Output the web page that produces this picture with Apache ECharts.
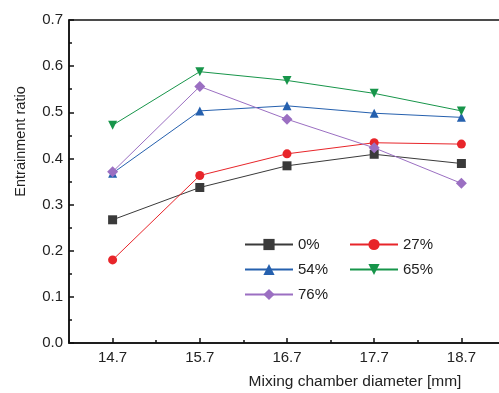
<!DOCTYPE html>
<html>
<head>
<meta charset="utf-8">
<script src="https://cdn.jsdelivr.net/npm/echarts@6/dist/echarts.min.js"></script>
<style>html,body{margin:0;padding:0;background:#fff;}#c{width:499px;height:393px;}</style>
</head>
<body>
<div id="c"></div>
<script>
var categories = ['14.7', '15.7', '16.7', '17.7', '18.7'];
var s0 = [0.267, 0.337, 0.384, 0.409, 0.389];
var s27 = [0.180, 0.363, 0.410, 0.434, 0.431];
var s54 = [0.368, 0.503, 0.514, 0.498, 0.489];
var s65 = [0.472, 0.588, 0.569, 0.541, 0.503];
var s76 = [0.371, 0.556, 0.485, 0.423, 0.346];
var seriesNames = ['0%', '27%', '54%', '65%', '76%'];

var FONT = 'Liberation Sans, Arial, sans-serif';
var chart = echarts.init(document.getElementById('c'), null, {renderer: 'canvas'});

function mk(name, data, color, symbol, rot) {
  return {
    name: name, type: 'line', data: data, xAxisIndex: 0,
    symbol: symbol, symbolSize: symbol === 'diamond' ? 11 : 9,
    symbolRotate: rot || 0,
    lineStyle: {color: color, width: 1},
    itemStyle: {color: color},
    animation: false
  };
}

var legendText = {fontFamily: FONT, fontSize: 15, color: '#222'};

chart.setOption({
  backgroundColor: '#ffffff',
  animation: false,
  grid: {left: 69, top: 20, width: 436, height: 323, outerBoundsMode: 'none', containLabel: false,
         show: true, borderColor: '#111', borderWidth: 1.5, backgroundColor: 'transparent'},
  legend: [
    {data: ['0%', '54%', '76%'], orient: 'vertical', left: 244, top: 237, itemWidth: 48, itemHeight: 14, itemGap: 10,
     textStyle: legendText, padding: 0},
    {data: ['27%', '65%'], orient: 'vertical', left: 349, top: 237, itemWidth: 48, itemHeight: 14, itemGap: 10,
     textStyle: legendText, padding: 0}
  ],
  xAxis: [
    {type: 'category', data: categories, boundaryGap: true, position: 'bottom',
     axisLine: {lineStyle: {color: '#111', width: 1.5}},
     axisTick: {show: true, alignWithLabel: true, inside: true, length: 5, lineStyle: {color: '#111', width: 1.5}},
     axisLabel: {fontFamily: FONT, fontSize: 15, color: '#222', margin: 7},
     splitLine: {show: false},
     name: 'Mixing chamber diameter [mm]', nameLocation: 'middle', nameGap: 31,
     nameTextStyle: {fontFamily: FONT, fontSize: 15.5, color: '#222', padding: [0, 0, 0, 136]}},
    {type: 'category', data: categories, boundaryGap: true, position: 'bottom',
     axisLine: {show: false},
     axisTick: {show: true, alignWithLabel: false, inside: true, length: 3, lineStyle: {color: '#111', width: 1.5}},
     axisLabel: {show: false}, splitLine: {show: false}}
  ],
  yAxis: {
    type: 'value', min: 0, max: 0.7, interval: 0.1,
    axisLine: {show: true, lineStyle: {color: '#111', width: 1.5}},
    axisTick: {show: true, inside: true, length: 5, lineStyle: {color: '#111', width: 1.5}},
    minorTick: {show: true, splitNumber: 2, length: 3, lineStyle: {color: '#111', width: 1.5}},
    axisLabel: {fontFamily: FONT, fontSize: 15, color: '#222', margin: 6,
      formatter: function (v) { return v.toFixed(1); }},
    splitLine: {show: false},
    name: 'Entrainment ratio', nameLocation: 'middle', nameGap: 41,
    nameTextStyle: {fontFamily: FONT, fontSize: 14.5, color: '#222', padding: [0, 0, 0, 80]}
  },
  series: [
    mk(seriesNames[0], s0, '#3a3a3a', 'rect'),
    mk(seriesNames[1], s27, '#e8252a', 'circle'),
    mk(seriesNames[2], s54, '#2560ae', 'triangle'),
    mk(seriesNames[3], s65, '#17954a', 'triangle', 180),
    mk(seriesNames[4], s76, '#9b6fc2', 'diamond')
  ]
});
</script>
</body>
</html>
